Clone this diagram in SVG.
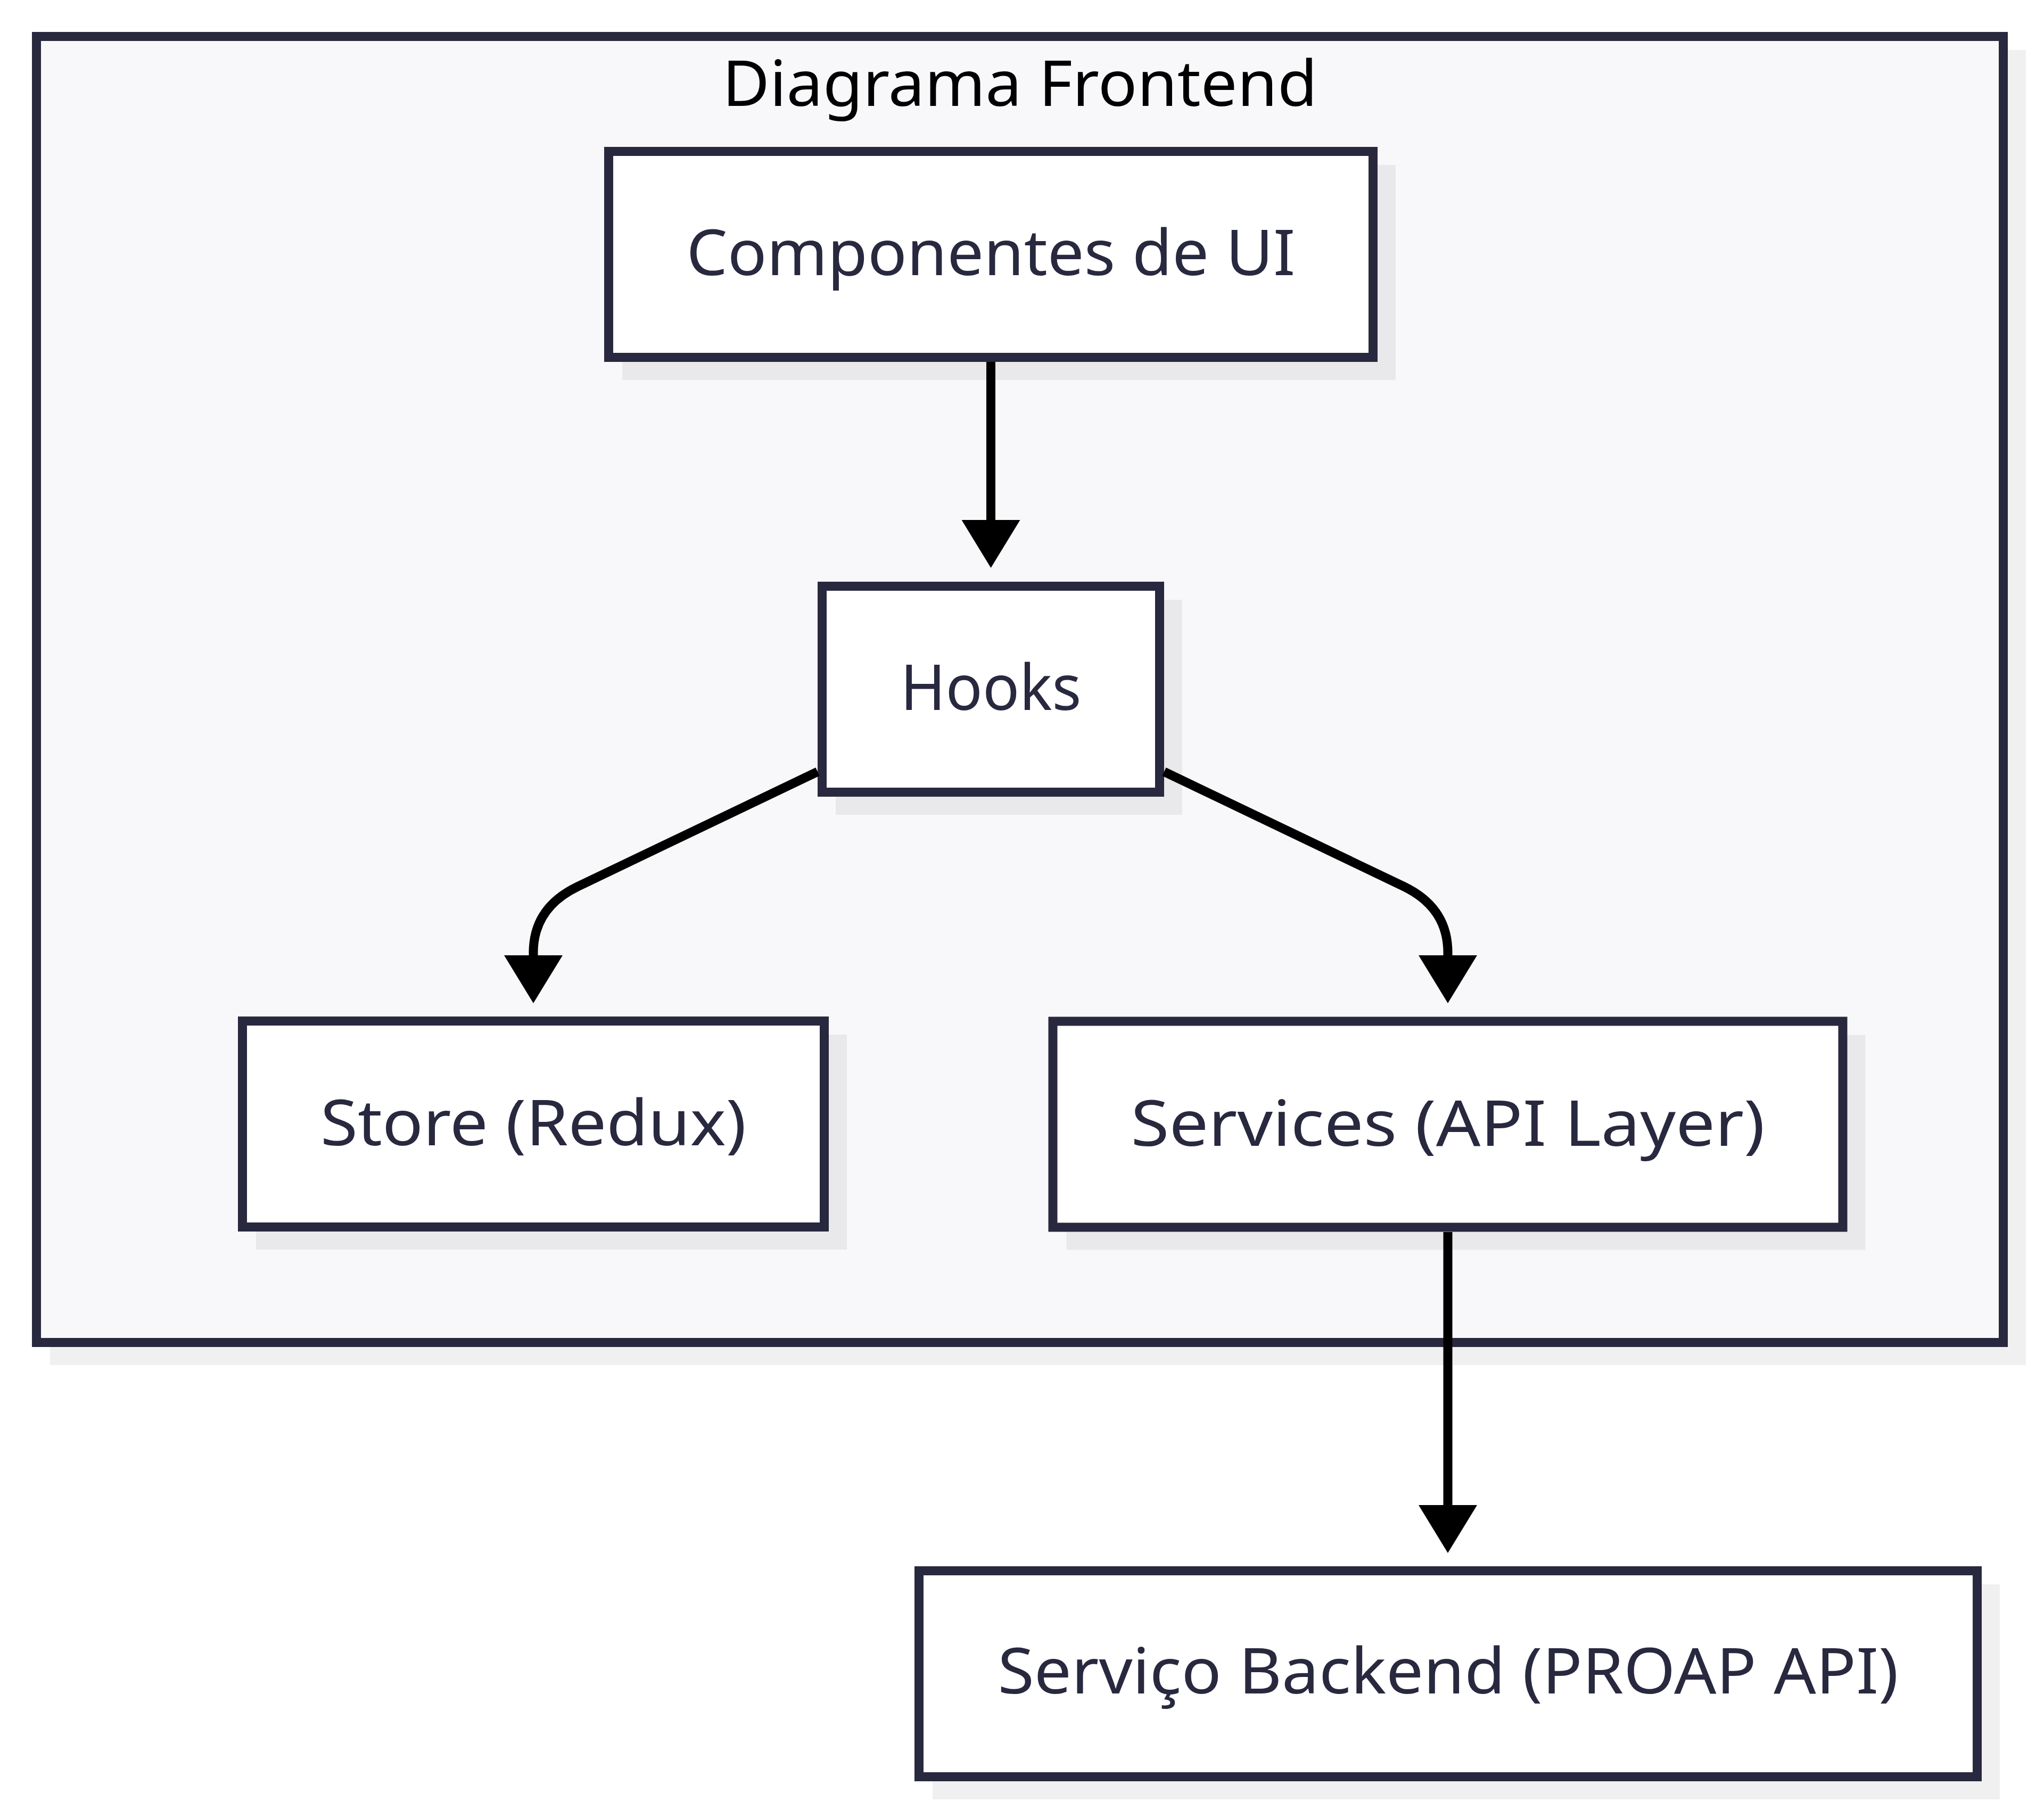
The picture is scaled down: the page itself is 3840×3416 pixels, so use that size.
<svg xmlns="http://www.w3.org/2000/svg" width="3840" height="3416" viewBox="0 0 3840 3416">
  <style>
    .shadow { fill: #000000; fill-opacity: 0.06; }
    .frame { fill: #f8f8fa; stroke: #28283f; stroke-width: 17; }
    .node { fill: #ffffff; stroke: #28283f; stroke-width: 17; }
    .label { font-family: "Noto Sans", "Open Sans", "DejaVu Sans", sans-serif; font-size: 119px; fill: #28283f; text-anchor: middle; }
    .title { font-family: "Noto Sans", "Open Sans", "DejaVu Sans", sans-serif; font-size: 119px; fill: #000000; text-anchor: middle; }
    .edge { fill: none; stroke: #000000; stroke-width: 17; }
  </style>
  <defs>
    <marker id="arrow" markerUnits="userSpaceOnUse" viewBox="0 0 90 110" markerWidth="90" markerHeight="110" refX="0" refY="55" orient="auto">
      <path d="M0,0 L90,55 L0,110 Z" fill="#000000"/>
    </marker>
  </defs>
  <rect width="3840" height="3416" fill="#ffffff"/>

  <g id="frame-diagrama-frontend">
    <rect class="shadow" x="94" y="94" width="3712" height="2471"/>
    <rect class="frame" x="68.5" y="68.5" width="3695" height="2454"/>
    <text class="title" x="1916" y="199" textLength="1118" lengthAdjust="spacingAndGlyphs">Diagrama Frontend</text>
  </g>

  <g id="node-componentes">
    <rect class="shadow" x="1169" y="310" width="1453" height="404"/>
    <rect class="node" x="1143.5" y="284.5" width="1436" height="387"/>
    <text class="label" x="1861.5" y="517" textLength="1144" lengthAdjust="spacingAndGlyphs">Componentes de UI</text>
  </g>

  <g id="node-hooks">
    <rect class="shadow" x="1570" y="1127" width="651" height="404"/>
    <rect class="node" x="1544.5" y="1101.5" width="634" height="387"/>
    <text class="label" x="1861.5" y="1334" textLength="340" lengthAdjust="spacingAndGlyphs">Hooks</text>
  </g>

  <g id="node-store">
    <rect class="shadow" x="481" y="1944" width="1110" height="404"/>
    <rect class="node" x="455.5" y="1918.5" width="1093" height="387"/>
    <text class="label" x="1002" y="2152" textLength="800" lengthAdjust="spacingAndGlyphs">Store (Redux)</text>
  </g>

  <g id="node-services">
    <rect class="shadow" x="2003.5" y="1944.5" width="1501" height="404"/>
    <rect class="node" x="1978" y="1919" width="1484" height="387"/>
    <text class="label" x="2720" y="2152.5" textLength="1191" lengthAdjust="spacingAndGlyphs">Services (API Layer)</text>
  </g>

  <g id="node-backend">
    <rect class="shadow" x="1752" y="2977" width="2005" height="404"/>
    <rect class="node" x="1726.5" y="2951.5" width="1988" height="387"/>
    <text class="label" x="2720.5" y="3182" textLength="1692" lengthAdjust="spacingAndGlyphs">Serviço Backend (PROAP API)</text>
  </g>

  <g id="connectors">
    <path class="edge" d="M1861.5 680 L1861.5 977" marker-end="url(#arrow)"/>
    <path class="edge" d="M1536 1450 L1085 1666 Q1002 1706 1002 1790 L1002 1795" marker-end="url(#arrow)"/>
    <path class="edge" d="M2187 1450 L2638 1666 Q2720 1706 2720 1790 L2720 1795" marker-end="url(#arrow)"/>
    <path class="edge" d="M2720 2315 L2720 2828" marker-end="url(#arrow)"/>
  </g>
</svg>
